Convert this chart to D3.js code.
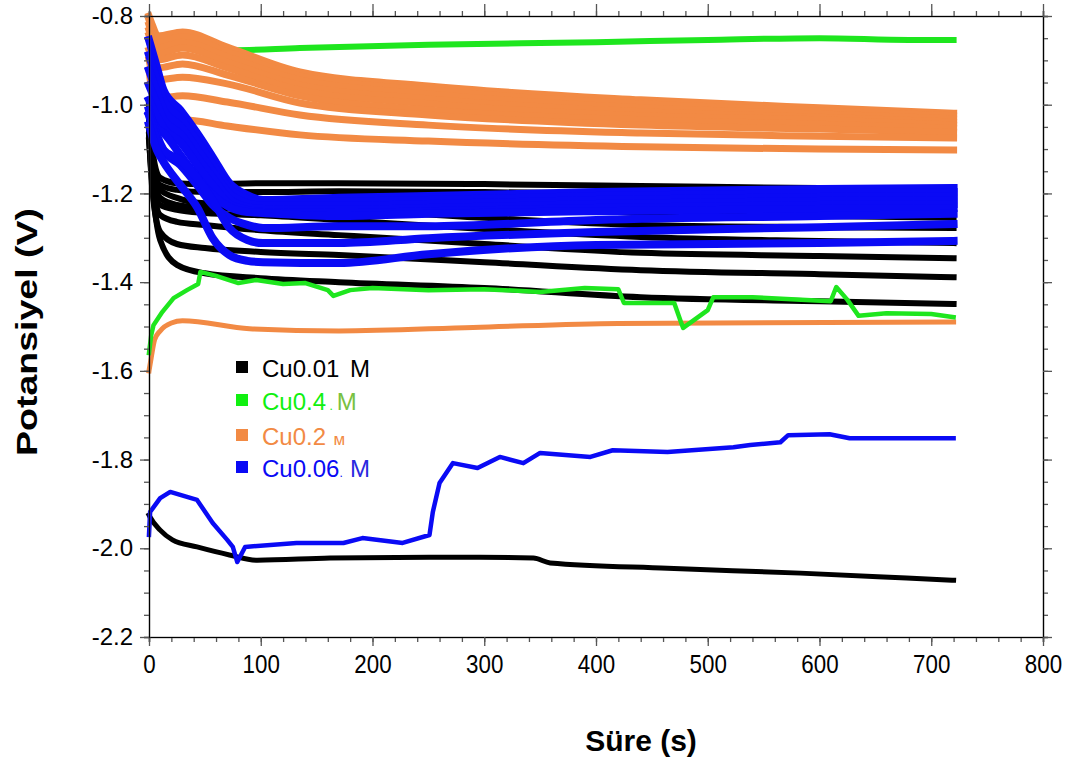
<!DOCTYPE html>
<html>
<head>
<meta charset="utf-8">
<script src="https://cdn.jsdelivr.net/npm/d3@7/dist/d3.min.js"></script>
<style>
html,body{margin:0;padding:0;background:#fff;}
svg{display:block;}
</style>
</head>
<body>
<svg id="chart" width="1074" height="760"></svg>
<script>
// ---------- data (time in s, potential in V) ----------
const xTicks = [0,100,200,300,400,500,600,700,800];
const yTicks = [-0.8,-1.0,-1.2,-1.4,-1.6,-1.8,-2.0,-2.2];
const xTitle = "Süre (s)";
const yTitle = "Potansiyel (V)";

const legendNames = ["Cu0.01","Cu0.4","Cu0.2","Cu0.06"];
const legendUnits = [" M","M","м","M"];
const legendDots = [""," ."," ",". "];

// Cu0.2 (orange) band
const tOrange = [0,3,8,30,70,135,250,440,600,720];
const orange1 = [-0.800,-0.820,-0.845,-0.836,-0.870,-0.926,-0.958,-0.989,-1.007,-1.019];
const orange2 = [-0.809,-0.832,-0.859,-0.847,-0.881,-0.935,-0.967,-0.998,-1.014,-1.025];
const orange3 = [-0.820,-0.843,-0.872,-0.859,-0.892,-0.944,-0.976,-1.007,-1.021,-1.032];
const orange4 = [-0.832,-0.854,-0.886,-0.872,-0.904,-0.956,-0.987,-1.016,-1.028,-1.039];
const orange5 = [-0.843,-0.865,-0.899,-0.888,-0.917,-0.967,-0.998,-1.025,-1.034,-1.046];
const orange6 = [-0.854,-0.877,-0.917,-0.908,-0.933,-0.980,-1.012,-1.034,-1.044,-1.053];
const orange7 = [-0.877,-0.899,-0.944,-0.938,-0.953,-0.996,-1.023,-1.046,-1.055,-1.062];
const orange8 = [-0.899,-0.933,-0.985,-0.980,-0.994,-1.023,-1.046,-1.064,-1.071,-1.075];
const orange9 = [-0.922,-0.978,-1.039,-1.034,-1.048,-1.068,-1.082,-1.095,-1.100,-1.102];
// Cu0.2 low curve
const tOrangeLow = [0,2,5,10,20,30,90,170,290,420,720];
const orangeLow = [-1.60,-1.57,-1.53,-1.51,-1.492,-1.487,-1.505,-1.51,-1.502,-1.493,-1.49];

// Cu0.01 (black)
const tBlack = [0,3,10,25,50,100,170,300,440,600,720];
const black1 = [-1.001,-1.102,-1.165,-1.177,-1.179,-1.177,-1.177,-1.179,-1.183,-1.188,-1.190];
const black2 = [-1.012,-1.125,-1.181,-1.192,-1.197,-1.197,-1.195,-1.197,-1.201,-1.204,-1.206];
const black3 = [-1.023,-1.136,-1.192,-1.210,-1.222,-1.219,-1.215,-1.228,-1.244,-1.251,-1.255];
const black4 = [-1.034,-1.147,-1.210,-1.226,-1.233,-1.233,-1.237,-1.255,-1.271,-1.276,-1.278];
const black5 = [-1.046,-1.159,-1.226,-1.237,-1.244,-1.249,-1.260,-1.280,-1.298,-1.307,-1.312];
const black6 = [-1.057,-1.170,-1.249,-1.264,-1.271,-1.283,-1.294,-1.314,-1.334,-1.341,-1.346];
const black7 = [-1.068,-1.192,-1.287,-1.314,-1.323,-1.332,-1.339,-1.355,-1.373,-1.382,-1.389];
const black8 = [-1.080,-1.181,-1.305,-1.361,-1.380,-1.391,-1.400,-1.413,-1.434,-1.443,-1.449];
// Cu0.01 low curve
const tBlackLow = [0,1,10,21,43,72,97,162,251,296,344,359,464,583,678,720];
const blackLow = [-1.925,-1.930,-1.959,-1.981,-1.997,-2.015,-2.027,-2.022,-2.020,-2.020,-2.022,-2.033,-2.045,-2.056,-2.067,-2.072];

// Cu0.06 (blue)
const tBlue = [0,7,13,28,43,57,72,88,102,170,250,400,600,720];
const blue1 = [-0.854,-0.915,-0.967,-1.012,-1.064,-1.118,-1.177,-1.204,-1.215,-1.210,-1.206,-1.197,-1.190,-1.188];
const blue2 = [-0.888,-0.944,-0.989,-1.030,-1.082,-1.134,-1.190,-1.213,-1.222,-1.219,-1.215,-1.206,-1.199,-1.197];
const blue3 = [-0.922,-0.971,-1.012,-1.048,-1.100,-1.150,-1.201,-1.222,-1.228,-1.228,-1.224,-1.215,-1.208,-1.206];
const blue4 = [-0.956,-0.998,-1.034,-1.066,-1.118,-1.165,-1.213,-1.231,-1.235,-1.237,-1.233,-1.224,-1.217,-1.215];
const blue5 = [-0.989,-1.025,-1.053,-1.084,-1.136,-1.181,-1.224,-1.237,-1.242,-1.244,-1.240,-1.233,-1.226,-1.224];
const blue6 = [-1.023,-1.053,-1.064,-1.113,-1.163,-1.204,-1.231,-1.242,-1.244,-1.251,-1.246,-1.240,-1.235,-1.233];
const blue7 = [-1.012,-1.068,-1.102,-1.136,-1.181,-1.226,-1.255,-1.271,-1.278,-1.274,-1.274,-1.260,-1.251,-1.246];
const blue8 = [-1.023,-1.080,-1.102,-1.125,-1.165,-1.215,-1.278,-1.305,-1.312,-1.312,-1.301,-1.287,-1.276,-1.269];
const blue9 = [-1.046,-1.102,-1.129,-1.181,-1.231,-1.301,-1.339,-1.352,-1.355,-1.357,-1.337,-1.316,-1.312,-1.307];
// Cu0.06 low curve
const tBlueLow = [0,1,10,19,43,57,70,75,79,86,132,174,191,227,251,254,260,272,294,314,335,350,395,415,464,523,538,565,572,609,627,720];
const blueLow = [-1.970,-1.918,-1.887,-1.873,-1.891,-1.943,-1.981,-1.997,-2.031,-1.997,-1.988,-1.988,-1.977,-1.988,-1.970,-1.918,-1.853,-1.808,-1.819,-1.794,-1.808,-1.785,-1.794,-1.779,-1.783,-1.772,-1.767,-1.761,-1.745,-1.743,-1.752,-1.752];

// Cu0.4 (green)
const tGreenTop = [8,20,50,75,135,250,400,500,600,680,720];
const greenTop = [-0.845,-0.855,-0.870,-0.877,-0.872,-0.865,-0.859,-0.854,-0.850,-0.854,-0.854];
const tGreenLow = [0,2,4,12,22,34,44,46,60,80,96,120,140,160,165,180,200,250,300,350,390,420,425,470,476,478,500,505,540,610,615,625,635,660,700,720];
const greenLow = [-1.560,-1.519,-1.497,-1.467,-1.436,-1.418,-1.404,-1.377,-1.386,-1.402,-1.395,-1.404,-1.402,-1.418,-1.431,-1.418,-1.413,-1.418,-1.416,-1.422,-1.413,-1.416,-1.447,-1.447,-1.490,-1.503,-1.463,-1.434,-1.434,-1.443,-1.411,-1.440,-1.476,-1.470,-1.472,-1.479];

// ---------- chart ----------
const COLORS = {black:"#000000", green:"#1ee61e", orange:"#f28a44", blue:"#0a0af5"};
const svg = d3.select("#chart");
const x = d3.scaleLinear().domain([0,800]).range([149,1043]);
const y = d3.scaleLinear().domain([-2.2,-0.8]).range([637,16]);

const zip = (ts, vs) => ts.map((t,i)=>[t, vs[i]]);
const smooth = d3.line().x(d=>x(d[0])).y(d=>y(d[1])).curve(d3.curveMonotoneX);
const rough = d3.line().x(d=>x(d[0])).y(d=>y(d[1])).curve(d3.curveLinear);

const plot = svg.append("g");
function draw(ts, vs, color, w, gen){
  plot.append("path").attr("d", gen(zip(ts, vs)))
    .attr("fill","none").attr("stroke",color).attr("stroke-width",w)
    .attr("stroke-linejoin","round").attr("stroke-linecap","square");
}

draw(tGreenTop, greenTop, COLORS.green, 6, smooth);
[orange1,orange2,orange3,orange4,orange5,orange6,orange7,orange8,orange9]
  .forEach(s => draw(tOrange, s, COLORS.orange, 7, smooth));
draw(tOrangeLow, orangeLow, COLORS.orange, 5, smooth);
[black1,black2,black3,black4,black5,black6,black7,black8]
  .forEach(s => draw(tBlack, s, COLORS.black, 6, smooth));
[blue1,blue2,blue3,blue4,blue5,blue6,blue7,blue8,blue9]
  .forEach(s => draw(tBlue, s, COLORS.blue, 8, smooth));
draw(tGreenLow, greenLow, COLORS.green, 4.5, rough);
draw(tBlackLow, blackLow, COLORS.black, 5, smooth);
draw(tBlueLow, blueLow, COLORS.blue, 4.5, rough);

// ---------- axes ----------
const axisColor = "#555";
function styleAxis(g){
  g.select(".domain").attr("stroke", axisColor).attr("stroke-width",1.6);
  g.selectAll(".tick line").attr("stroke", axisColor).attr("stroke-width",1.3);
}
const minorX = d3.range(0,801,20);
const minorY = d3.range(0,29).map(i => -2.2 + i*0.05);

// bottom
const gB = svg.append("g").attr("transform","translate(0,637)");
gB.call(d3.axisBottom(x).tickValues(minorX).tickSize(5).tickFormat(""));
gB.append("g").call(d3.axisBottom(x).tickValues(xTicks).tickSize(9).tickPadding(9).tickFormat(d=>d));
gB.selectAll(".tick text").each(function(){
  const t = d3.select(this);
  t.attr("font-family","'Liberation Sans Narrow','Arial Narrow','Liberation Sans',Arial,sans-serif")
   .attr("font-size",26).attr("fill","#000")
   .attr("transform","scale(0.86,1)")
   .attr("x", 0);
});
styleAxis(gB); styleAxis(gB.select("g"));
// top
const gT = svg.append("g").attr("transform","translate(0,16)");
gT.call(d3.axisTop(x).tickValues(minorX).tickSize(5).tickFormat(""));
gT.append("g").call(d3.axisTop(x).tickValues(xTicks).tickSize(12).tickFormat(""));
styleAxis(gT); styleAxis(gT.select("g"));
// left
const gL = svg.append("g").attr("transform","translate(149,0)");
gL.call(d3.axisLeft(y).tickValues(minorY).tickSize(5).tickFormat(""));
gL.append("g").call(d3.axisLeft(y).tickValues(yTicks).tickSize(9).tickPadding(7).tickFormat(d=>d.toFixed(1)));
gL.selectAll("text").attr("font-family","'Liberation Sans',Arial,sans-serif").attr("font-size",24).attr("fill","#000");
styleAxis(gL); styleAxis(gL.select("g"));
// right
const gR = svg.append("g").attr("transform","translate(1043,0)");
gR.call(d3.axisRight(y).tickValues(minorY).tickSize(5).tickFormat(""));
gR.append("g").call(d3.axisRight(y).tickValues(yTicks).tickSize(9).tickFormat(""));
styleAxis(gR); styleAxis(gR.select("g"));

// titles
svg.append("text").attr("x",641).attr("y",751).attr("text-anchor","middle")
  .attr("font-family","'Liberation Sans',Arial,sans-serif").attr("font-weight","bold")
  .attr("font-size",30).text(xTitle);
svg.append("text").attr("transform","translate(37,332) rotate(-90) scale(1.25,1)").attr("text-anchor","middle")
  .attr("font-family","'Liberation Sans',Arial,sans-serif").attr("font-weight","bold")
  .attr("font-size",30).text(yTitle);

// ---------- legend ----------
const legColors = [COLORS.black, "#10f010", COLORS.orange, COLORS.blue];
const unitColors = ["#000", "#79c141", COLORS.orange, "#2a2ae0"];
const unitSizes = [24, 24, 17, 24];
const legY = [368, 401, 436, 468];
const leg = svg.append("g").attr("font-family","'Liberation Sans',Arial,sans-serif");
legendNames.forEach((name,i)=>{
  leg.append("rect").attr("x",236).attr("y",legY[i]-7).attr("width",12).attr("height",12).attr("fill",legColors[i]);
  const t = leg.append("text").attr("x",262).attr("y",legY[i]+9).attr("font-size",24);
  t.append("tspan").attr("fill",legColors[i]).text(name);
  t.append("tspan").attr("fill",legColors[i]).attr("font-size",12).text(legendDots[i]);
  t.append("tspan").attr("fill",unitColors[i]).attr("font-size",unitSizes[i]).attr("dx",4).text(legendUnits[i]);
});
</script>
</body>
</html>
